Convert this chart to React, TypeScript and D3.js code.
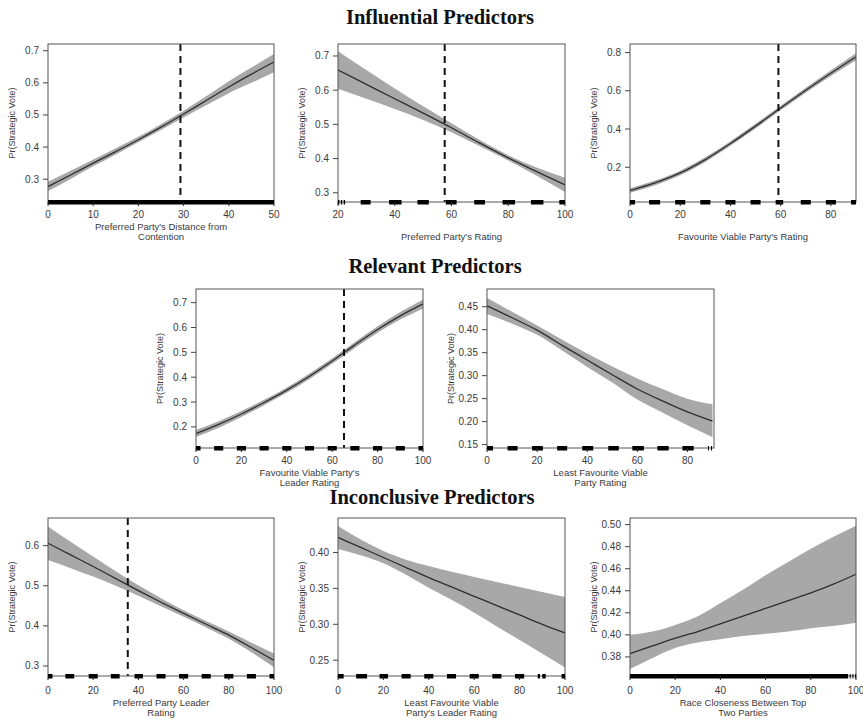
import React from 'react'
import * as d3 from 'd3'

// ---- data ----
const sectionTitles = ['Influential Predictors', 'Relevant Predictors', 'Inconclusive Predictors']

// panel 1: preferred party's distance from contention
const p1X = [0, 5, 10, 15, 20, 25, 30, 35, 40, 45, 50]
const p1Mean = [0.277, 0.313, 0.35, 0.386, 0.423, 0.462, 0.503, 0.545, 0.587, 0.627, 0.665]
const p1Lower = [0.263, 0.301, 0.34, 0.377, 0.415, 0.453, 0.492, 0.53, 0.568, 0.6, 0.633]
const p1Upper = [0.292, 0.326, 0.361, 0.396, 0.432, 0.471, 0.513, 0.558, 0.605, 0.648, 0.69]
const p1Rug = [[0, 50]]

// panel 2: preferred party's rating
const p2X = [20, 30, 40, 50, 60, 70, 80, 90, 100]
const p2Mean = [0.659, 0.617, 0.575, 0.533, 0.49, 0.445, 0.402, 0.362, 0.323]
const p2Lower = [0.604, 0.575, 0.545, 0.513, 0.477, 0.436, 0.394, 0.35, 0.302]
const p2Upper = [0.714, 0.659, 0.605, 0.553, 0.503, 0.454, 0.41, 0.374, 0.344]
const p2Rug = [[20, 20.5], [21, 21.5], [22, 22.5], [28, 31.5], [38, 42.4], [48, 52], [58, 61.8], [68, 71.8], [78, 82.4], [88, 92.4], [98, 100]]

// panel 3: favourite viable party's rating
const p3X = [0, 10, 20, 30, 40, 50, 60, 70, 80, 90]
const p3Mean = [0.078, 0.118, 0.17, 0.24, 0.324, 0.415, 0.51, 0.603, 0.692, 0.778]
const p3Lower = [0.066, 0.106, 0.158, 0.228, 0.312, 0.403, 0.498, 0.59, 0.677, 0.76]
const p3Upper = [0.09, 0.13, 0.182, 0.252, 0.336, 0.427, 0.522, 0.616, 0.707, 0.796]
const p3Rug = [[0, 2], [7.6, 12], [18, 22], [28, 32], [38, 42], [48, 52], [58, 61], [68, 72], [78, 82], [88, 90]]

// panel 4: favourite viable party's leader rating
const p4X = [0, 10, 20, 30, 40, 50, 60, 70, 80, 90, 100]
const p4Mean = [0.173, 0.21, 0.252, 0.298, 0.348, 0.404, 0.465, 0.53, 0.592, 0.647, 0.695]
const p4Lower = [0.159, 0.197, 0.24, 0.287, 0.337, 0.393, 0.454, 0.518, 0.579, 0.632, 0.677]
const p4Upper = [0.187, 0.223, 0.264, 0.309, 0.359, 0.415, 0.476, 0.542, 0.605, 0.662, 0.713]
const p4Rug = [[0, 2], [8, 12], [18, 22], [28, 32], [38, 42], [48, 52], [58, 62], [68, 72], [78, 82], [88, 92], [98, 100]]

// panel 5: least favourite viable party rating
const p5X = [0, 10, 20, 30, 40, 50, 60, 70, 80, 90]
const p5Mean = [0.452, 0.426, 0.399, 0.366, 0.334, 0.302, 0.271, 0.245, 0.221, 0.201]
const p5Lower = [0.434, 0.413, 0.389, 0.355, 0.319, 0.285, 0.248, 0.22, 0.192, 0.166]
const p5Upper = [0.469, 0.439, 0.409, 0.378, 0.348, 0.32, 0.294, 0.271, 0.25, 0.238]
const p5Rug = [[0, 2.4], [8.2, 12.2], [18, 22.3], [28, 32], [38, 42.4], [48.4, 52.6], [58, 62.6], [68, 72.5], [78, 82.5], [88.2, 88.6], [89.4, 89.8]]

// panel 6: preferred party leader rating
const p6X = [0, 10, 20, 30, 40, 50, 60, 70, 80, 90, 100]
const p6Mean = [0.606, 0.577, 0.548, 0.518, 0.488, 0.459, 0.431, 0.404, 0.377, 0.346, 0.314]
const p6Lower = [0.564, 0.544, 0.523, 0.5, 0.475, 0.449, 0.423, 0.396, 0.368, 0.334, 0.297]
const p6Upper = [0.648, 0.61, 0.573, 0.536, 0.501, 0.469, 0.439, 0.412, 0.386, 0.358, 0.331]
const p6Rug = [[0, 2], [7.7, 11.6], [18, 22], [27.8, 31.7], [38.3, 42], [48, 52], [58, 62], [68, 72], [78, 82], [88, 92], [98, 100]]

// panel 7: least favourite viable party's leader rating
const p7X = [0, 10, 20, 30, 40, 50, 60, 70, 80, 90, 100]
const p7Mean = [0.421, 0.407, 0.393, 0.379, 0.365, 0.352, 0.339, 0.326, 0.313, 0.3, 0.288]
const p7Lower = [0.405, 0.396, 0.385, 0.369, 0.351, 0.334, 0.316, 0.297, 0.278, 0.259, 0.24]
const p7Upper = [0.437, 0.418, 0.402, 0.39, 0.381, 0.373, 0.366, 0.359, 0.352, 0.345, 0.338]
const p7Rug = [[0, 2.5], [8, 12.8], [18.3, 22], [28, 32], [38, 42], [48, 52], [58, 62], [68, 72], [78, 82], [88, 89], [90, 91.5], [98.5, 100]]

// panel 8: race closeness between top two parties
const p8X = [0, 10, 20, 30, 40, 50, 60, 70, 80, 90, 100]
const p8Mean = [0.383, 0.39, 0.397, 0.403, 0.41, 0.417, 0.424, 0.431, 0.438, 0.446, 0.455]
const p8Lower = [0.369, 0.379, 0.388, 0.393, 0.396, 0.399, 0.401, 0.403, 0.406, 0.408, 0.411]
const p8Upper = [0.4, 0.403, 0.409, 0.417, 0.429, 0.441, 0.454, 0.466, 0.478, 0.489, 0.499]
const p8Rug = [[0, 96.5], [97.2, 97.6], [98.4, 98.8], [99.6, 100]]

// tick values
const yTicks1 = [0.3, 0.4, 0.5, 0.6, 0.7]
const yTicks3 = [0.2, 0.4, 0.6, 0.8]
const yTicks4 = [0.2, 0.3, 0.4, 0.5, 0.6, 0.7]
const yTicks5 = [0.15, 0.2, 0.25, 0.3, 0.35, 0.4, 0.45]
const yTicks6 = [0.3, 0.4, 0.5, 0.6]
const yTicks7 = [0.25, 0.3, 0.35, 0.4]
const yTicks8 = [0.38, 0.4, 0.42, 0.44, 0.46, 0.48, 0.5]
const xTicks50 = [0, 10, 20, 30, 40, 50]
const xTicks20to100 = [20, 40, 60, 80, 100]
const xTicks0to80 = [0, 20, 40, 60, 80]
const xTicks0to100 = [0, 20, 40, 60, 80, 100]

// reference (dashed) lines where Pr = 0.5
const cutPoints = [29.3, 57.6, 59.1, 65.2, null, 35.3, null, null]

const xLabels = [
  ["Preferred Party's Distance from", 'Contention'],
  ['', "Preferred Party's Rating"],
  ['', "Favourite Viable Party's Rating"],
  ["Favourite Viable Party's", 'Leader Rating'],
  ['Least Favourite Viable', 'Party Rating'],
  ['Preferred Party Leader', 'Rating'],
  ['Least Favourite Viable', "Party's Leader Rating"],
  ['Race Closeness Between Top', 'Two Parties']
]

const panelData = [
  { x: p1X, mean: p1Mean, lower: p1Lower, upper: p1Upper, rug: p1Rug, yTicks: yTicks1, xTicks: xTicks50, yFmt: '.1f' },
  { x: p2X, mean: p2Mean, lower: p2Lower, upper: p2Upper, rug: p2Rug, yTicks: yTicks1, xTicks: xTicks20to100, yFmt: '.1f' },
  { x: p3X, mean: p3Mean, lower: p3Lower, upper: p3Upper, rug: p3Rug, yTicks: yTicks3, xTicks: xTicks0to80, yFmt: '.1f' },
  { x: p4X, mean: p4Mean, lower: p4Lower, upper: p4Upper, rug: p4Rug, yTicks: yTicks4, xTicks: xTicks0to100, yFmt: '.1f' },
  { x: p5X, mean: p5Mean, lower: p5Lower, upper: p5Upper, rug: p5Rug, yTicks: yTicks5, xTicks: xTicks0to80, yFmt: '.2f' },
  { x: p6X, mean: p6Mean, lower: p6Lower, upper: p6Upper, rug: p6Rug, yTicks: yTicks6, xTicks: xTicks0to100, yFmt: '.1f' },
  { x: p7X, mean: p7Mean, lower: p7Lower, upper: p7Upper, rug: p7Rug, yTicks: yTicks7, xTicks: xTicks0to100, yFmt: '.2f' },
  { x: p8X, mean: p8Mean, lower: p8Lower, upper: p8Upper, rug: p8Rug, yTicks: yTicks8, xTicks: xTicks0to100, yFmt: '.2f' }
]

// ---- layout ----
const W = 863
const H = 720
const rows = [
  { top: 44, bottom: 202, tickDy: 12.5, l1: 24, l2: 34.5, titleY: 17 },
  { top: 289, bottom: 448, tickDy: 12.5, l1: 24, l2: 34.5, titleY: 266 },
  { top: 518, bottom: 676, tickDy: 14.5, l1: 26, l2: 36.5, titleY: 497 }
]
const titleX = [440, 435, 432]
const layout = [
  { row: 0, left: 48, right: 274, xDom: [0, 50], yDom: [0.229, 0.721] },
  { row: 0, left: 338, right: 565, xDom: [20, 100], yDom: [0.273, 0.735] },
  { row: 0, left: 630, right: 856, xDom: [0, 90], yDom: [0.018, 0.845] },
  { row: 1, left: 196, right: 423, xDom: [0, 100], yDom: [0.115, 0.755] },
  { row: 1, left: 487, right: 714, xDom: [0, 90.6], yDom: [0.1426, 0.4886] },
  { row: 2, left: 48, right: 274, xDom: [0, 100], yDom: [0.275, 0.669] },
  { row: 2, left: 338, right: 565, xDom: [0, 100], yDom: [0.228, 0.448] },
  { row: 2, left: 630, right: 856, xDom: [0, 100], yDom: [0.3627, 0.506] }
]

const sans = 'Liberation Sans, Arial, sans-serif'
const textCol = '#3a3a3a'

const Panel = ({ i }: { i: number }) => {
  const d = panelData[i]
  const lay = layout[i]
  const r = rows[lay.row]
  const x = d3.scaleLinear().domain(lay.xDom).range([lay.left, lay.right])
  const y = d3.scaleLinear().domain(lay.yDom).range([r.bottom, r.top])
  const pts = d.x.map((v, k) => ({ x: v, m: d.mean[k], lo: d.lower[k], hi: d.upper[k] }))
  const band = d3
    .area<any>()
    .x(p => x(p.x))
    .y0(p => y(p.lo))
    .y1(p => y(p.hi))
    .curve(d3.curveMonotoneX)
  const line = d3
    .line<any>()
    .x(p => x(p.x))
    .y(p => y(p.m))
    .curve(d3.curveMonotoneX)
  const fmt = d3.format(d.yFmt)
  const cut = cutPoints[i]
  const cx = (lay.left + lay.right) / 2
  const cy = (r.top + r.bottom) / 2
  return (
    <g>
      <path d={band(pts) || ''} fill="#a8a8a8" />
      <path d={line(pts) || ''} fill="none" stroke="#2e2e2e" strokeWidth={1.3} />
      {cut !== null && (
        <line
          x1={x(cut)}
          x2={x(cut)}
          y1={r.top}
          y2={r.bottom}
          stroke="#111"
          strokeWidth={2}
          strokeDasharray="7,5"
        />
      )}
      <rect
        x={lay.left}
        y={r.top}
        width={lay.right - lay.left}
        height={r.bottom - r.top}
        fill="none"
        stroke="#555"
        strokeWidth={1}
      />
      {d.rug.map(([a, b], k) => (
        <rect key={k} x={x(a)} y={r.bottom - 2} width={Math.max(1, x(b) - x(a))} height={4.5} fill="#000" />
      ))}
      {d.yTicks.map(t => (
        <g key={t}>
          <line x1={lay.left - 5} x2={lay.left} y1={y(t)} y2={y(t)} stroke="#444" />
          <text
            x={lay.left - 9}
            y={y(t)}
            textAnchor="end"
            dominantBaseline="central"
            fontSize={10}
            fontFamily={sans}
            fill={textCol}
          >
            {fmt(t)}
          </text>
        </g>
      ))}
      {d.xTicks.map(t => (
        <g key={t}>
          <line x1={x(t)} x2={x(t)} y1={r.bottom} y2={r.bottom + 4} stroke="#222" />
          <text
            x={x(t)}
            y={r.bottom + r.tickDy}
            textAnchor="middle"
            dominantBaseline="central"
            fontSize={10}
            fontFamily={sans}
            fill={textCol}
          >
            {t}
          </text>
        </g>
      ))}
      {xLabels[i].map((s, k) => (
        <text
          key={k}
          x={cx}
          y={r.bottom + (k === 0 ? r.l1 : r.l2)}
          textAnchor="middle"
          dominantBaseline="central"
          fontSize={9.5}
          fontFamily={sans}
          fill={textCol}
        >
          {s}
        </text>
      ))}
      <text
        transform={`translate(${lay.left - 36},${cy}) rotate(-90)`}
        textAnchor="middle"
        dominantBaseline="central"
        fontSize={9}
        fontFamily={sans}
        fill={textCol}
      >
        Pr(Strategic Vote)
      </text>
    </g>
  )
}

export default function App() {
  return (
    <svg
      width={W}
      height={H}
      viewBox={`0 0 ${W} ${H}`}
      style={{ position: 'absolute', left: 0, top: 0, background: '#fff' }}
    >
      <rect width={W} height={H} fill="#fff" />
      {sectionTitles.map((t, k) => (
        <text
          key={t}
          x={titleX[k]}
          y={rows[k].titleY}
          textAnchor="middle"
          dominantBaseline="central"
          fontSize={20.5}
          fontWeight="bold"
          fontFamily="Liberation Serif, Times New Roman, serif"
          fill="#111"
        >
          {t}
        </text>
      ))}
      {panelData.map((_, i) => (
        <Panel key={i} i={i} />
      ))}
    </svg>
  )
}
